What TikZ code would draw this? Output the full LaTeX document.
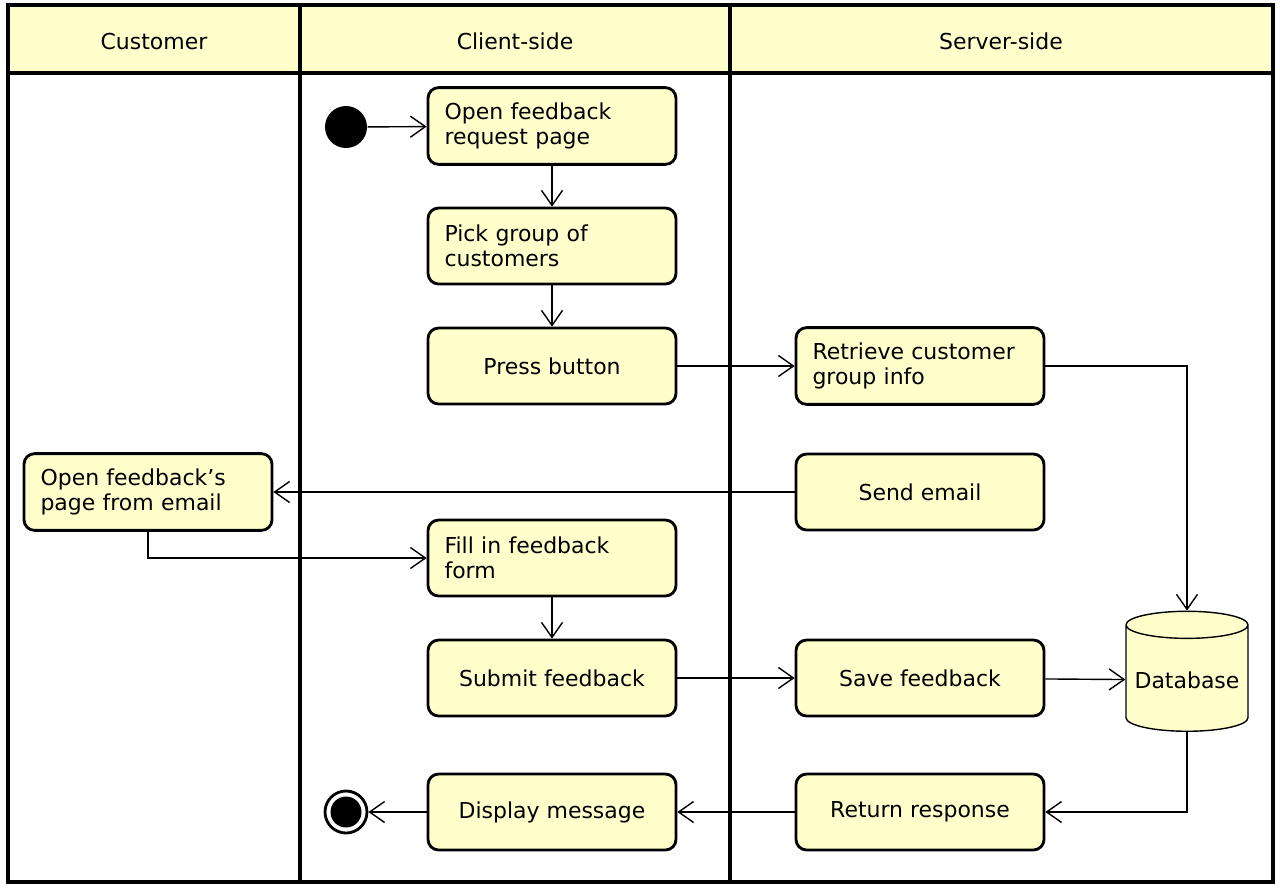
\documentclass[tikz,border=0pt]{standalone}
\usepackage{fontspec}
\setmainfont{DejaVu Sans}
\usetikzlibrary{arrows.meta,shapes.geometric}
\definecolor{umlfill}{HTML}{FFFFCC}
\begin{document}
\begin{tikzpicture}[x=0.02cm, y=-0.02cm, font=\fontsize{12.5}{14.5}\selectfont,
    >={Straight Barb[length=3mm,width=4.2mm]}, line width=0.8pt]
    \tikzstyle{action} = [rectangle, draw, fill=umlfill, rounded corners=6pt, line width=1.6pt, minimum width=4.96cm, minimum height=1.52cm, inner sep=3mm]
    \tikzstyle{twoline} = [action, text width=4.3cm, align=left]
    \tikzstyle{lane} = [draw, line width=2pt]
    \useasboundingbox (0,0) rectangle (1280,890);

    % swimlanes
    \fill[umlfill] (8,5) rectangle (1273,73);
    \draw[lane] (8,5) rectangle (1273,882);
    \draw[lane] (8,73) -- (1273,73);
    \draw[lane] (300,5) -- (300,882);
    \draw[lane] (730,5) -- (730,882);
    \node at (154,41) {Customer};
    \node at (515,41) {Client-side};
    \node at (1001,41) {Server-side};

    \node[circle, fill, minimum size=0.84cm, inner sep=0] (start) at (346,127) {};
    \node[twoline] (openreq) at (552,126) {Open feedback\\request page};
    \node[twoline] (pick) at (552,246) {Pick group of\\customers};
    \node[action] (press) at (552,366) {Press button};
    \node[twoline] (retrieve) at (920,366) {Retrieve customer\\group info};
    \node[action] (sendmail) at (920,492) {Send email};
    \node[twoline] (openmail) at (148,492) {Open feedback\char39s\\page from email};
    \node[twoline] (fill) at (552,558) {Fill in feedback\\form};
    \node[action] (submit) at (552,678) {Submit feedback};
    \node[action] (save) at (920,678) {Save feedback};
    \node[cylinder, shape border rotate=90, draw, fill=umlfill, line width=0.8pt, aspect=0.25, minimum width=2.44cm, minimum height=2.4cm, inner sep=1pt] (db) at (1187,680) {Database};
    \node[action] (return) at (920,812) {Return response};
    \node[action] (display) at (552,812) {Display message};
    \node[circle, draw, line width=1.6pt, minimum size=0.84cm, inner sep=0] (end) at (346,812) {};
    \node[circle, fill, minimum size=0.62cm, inner sep=0] at (end) {};

    \draw[->] (start) -- (openreq);
    \draw[->] (openreq) -- (pick);
    \draw[->] (pick) -- (press);
    \draw[->] (press) -- (retrieve);
    \draw[->] (retrieve.east) -| (db.top);
    \draw[->] (sendmail) -- (openmail);
    \draw[->] (openmail.south) |- (fill.west);
    \draw[->] (fill) -- (submit);
    \draw[->] (submit) -- (save);
    \draw[->] (save) -- (db);
    \draw[->] (db.bottom) |- (return.east);
    \draw[->] (return) -- (display);
    \draw[->] (display) -- (end);
\end{tikzpicture}
\end{document}
